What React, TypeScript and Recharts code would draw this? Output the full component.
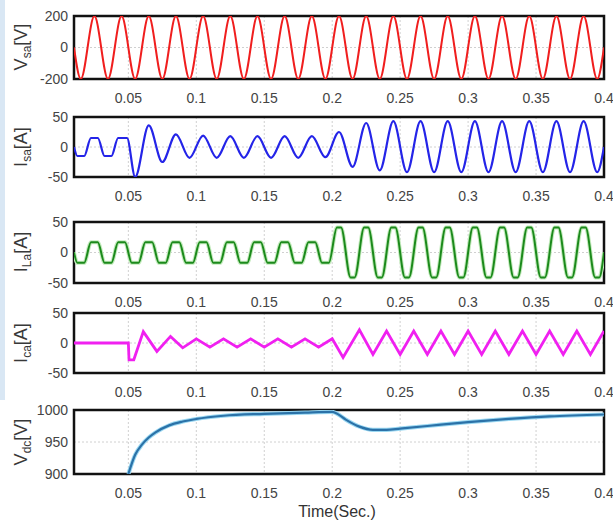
import React from 'react'
import { LineChart, Line, XAxis, YAxis, CartesianGrid, ReferenceArea } from 'recharts'

type Pt = [number, number]

const timeRange: [number, number] = [0.01, 0.4]
const timeTicks = [0.05, 0.1, 0.15, 0.2, 0.25, 0.3, 0.35, 0.4]
const vsaTicks = [-200, 0, 200]
const ampTicks = [-50, 0, 50]
const vdcTicks = [900, 950, 1000]

// source voltage, peaks/troughs
const vsa: Pt[] = [
  [0.01, 0], [0.015, -200], [0.025, 200], [0.035, -200], [0.045, 200], [0.055, -200],
  [0.065, 200], [0.075, -200], [0.085, 200], [0.095, -200], [0.105, 200], [0.115, -200],
  [0.125, 200], [0.135, -200], [0.145, 200], [0.155, -200], [0.165, 200], [0.175, -200],
  [0.185, 200], [0.195, -200], [0.205, 200], [0.215, -200], [0.225, 200], [0.235, -200],
  [0.245, 200], [0.255, -200], [0.265, 200], [0.275, -200], [0.285, 200], [0.295, -200],
  [0.305, 200], [0.315, -200], [0.325, 200], [0.335, -200], [0.345, 200], [0.355, -200],
  [0.365, 200], [0.375, -200], [0.385, 200], [0.395, -200], [0.4, 0],
]

// source current
const isa: Pt[] = [
  [0.01, 0], [0.0125, -15], [0.0175, -15], [0.0225, 15], [0.0275, 15], [0.0325, -15], [0.0375, -15],
  [0.0425, 15], [0.049, 15], [0.055, -50], [0.065, 36], [0.075, -25], [0.085, 21], [0.095, -18],
  [0.105, 19], [0.115, -18], [0.125, 18], [0.135, -18], [0.145, 18], [0.155, -18], [0.165, 18],
  [0.175, -18], [0.185, 18], [0.195, -17], [0.205, 25], [0.215, -33], [0.225, 40], [0.235, -39],
  [0.245, 43], [0.255, -42], [0.265, 43], [0.275, -42], [0.285, 43], [0.295, -42], [0.305, 43],
  [0.315, -42], [0.325, 43], [0.335, -42], [0.345, 43], [0.355, -42], [0.365, 43], [0.375, -42],
  [0.385, 43], [0.395, -42], [0.4, 0],
]

// load current (flat-topped)
const ila: Pt[] = [
  [0.01, 0],
  [0.0125, -17], [0.0175, -17], [0.0225, 17], [0.0275, 17],
  [0.0325, -17], [0.0375, -17], [0.0425, 17], [0.0475, 17],
  [0.0525, -17], [0.0575, -17], [0.0625, 17], [0.0675, 17],
  [0.0725, -17], [0.0775, -17], [0.0825, 17], [0.0875, 17],
  [0.0925, -17], [0.0975, -17], [0.1025, 17], [0.1075, 17],
  [0.1125, -17], [0.1175, -17], [0.1225, 17], [0.1275, 17],
  [0.1325, -17], [0.1375, -17], [0.1425, 17], [0.1475, 17],
  [0.1525, -17], [0.1575, -17], [0.1625, 17], [0.1675, 17],
  [0.1725, -17], [0.1775, -17], [0.1825, 17], [0.1875, 17],
  [0.1925, -17], [0.1975, -17], [0.2035, 41], [0.2065, 41],
  [0.2135, -41], [0.2165, -41], [0.2235, 41], [0.2265, 41],
  [0.2335, -41], [0.2365, -41], [0.2435, 41], [0.2465, 41],
  [0.2535, -41], [0.2565, -41], [0.2635, 41], [0.2665, 41],
  [0.2735, -41], [0.2765, -41], [0.2835, 41], [0.2865, 41],
  [0.2935, -41], [0.2965, -41], [0.3035, 41], [0.3065, 41],
  [0.3135, -41], [0.3165, -41], [0.3235, 41], [0.3265, 41],
  [0.3335, -41], [0.3365, -41], [0.3435, 41], [0.3465, 41],
  [0.3535, -41], [0.3565, -41], [0.3635, 41], [0.3665, 41],
  [0.3735, -41], [0.3765, -41], [0.3835, 41], [0.3865, 41],
  [0.3935, -41], [0.3965, -41], [0.4, 0],
]

// compensator current
const ica: Pt[] = [
  [0.01, 0], [0.05, 0], [0.0505, -28], [0.054, -28], [0.061, 19], [0.071, -14], [0.081, 11],
  [0.09, -8], [0.1, 7], [0.11, -7], [0.12, 7], [0.13, -7], [0.14, 7], [0.15, -7], [0.16, 7],
  [0.17, -7], [0.18, 7], [0.19, -7], [0.2, 7], [0.208, -24], [0.22, 22], [0.23, -19],
  [0.24, 20], [0.25, -19], [0.26, 20], [0.27, -19], [0.28, 20], [0.29, -19], [0.3, 20],
  [0.31, -19], [0.32, 20], [0.33, -19], [0.34, 20], [0.35, -19], [0.36, 20], [0.37, -19],
  [0.38, 20], [0.39, -19], [0.4, 20],
]

// dc-link voltage
const vdc: Pt[] = [
  [0.05, 900], [0.055, 930], [0.06, 946], [0.065, 957], [0.07, 965], [0.08, 976], [0.09, 982],
  [0.1, 986], [0.12, 991], [0.15, 994], [0.18, 996], [0.2, 997], [0.203, 995], [0.21, 985],
  [0.22, 974], [0.23, 969], [0.24, 969], [0.25, 971], [0.27, 975], [0.3, 981], [0.33, 986],
  [0.36, 990], [0.4, 993],
]

const FONT = '"Liberation Sans", Arial, sans-serif'
const tickStyle = { fontSize: 14, fill: '#444', fontFamily: FONT }
const PAD = 10

interface PanelProps {
  data: Pt[]
  top: number
  h: number
  yTicks: number[]
  color: string
  width: number
  curve: 'monotone' | 'linear'
  halo?: string
}

function Panel({ data, top, h, yTicks, color, width, curve, halo }: PanelProps) {
  const rows = data.map(([t, v]) => ({ t, v }))
  return (
    <div style={{ position: 'absolute', left: 0, top: top - PAD }}>
      <LineChart width={613} height={h + PAD + 30} data={rows} margin={{ top: PAD, right: 9, bottom: 0, left: 0 }}>
        <CartesianGrid stroke="#d0d0d0" strokeDasharray="2 2" />
        <XAxis
          dataKey="t"
          type="number"
          domain={timeRange}
          ticks={timeTicks}
          interval={0}
          allowDataOverflow
          tickLine={false}
          axisLine={false}
          tickSize={12}
          tickMargin={2}
          height={30}
          tick={tickStyle}
        />
        <YAxis
          type="number"
          domain={[yTicks[0], yTicks[yTicks.length - 1]]}
          ticks={yTicks}
          interval={0}
          allowDataOverflow
          width={74}
          tickLine={false}
          axisLine={false}
          tickSize={4}
          tickMargin={2}
          tick={tickStyle}
        />
        {halo && (
          <Line dataKey="v" type={curve} stroke={halo} strokeWidth={width + 2} dot={false} isAnimationActive={false} />
        )}
        <Line dataKey="v" type={curve} stroke={color} strokeWidth={width} dot={false} isAnimationActive={false} />
        <ReferenceArea
          x1={timeRange[0]}
          x2={timeRange[1]}
          y1={yTicks[0]}
          y2={yTicks[yTicks.length - 1]}
          fill="none"
          stroke="#111"
          strokeWidth={2.5}
          ifOverflow="visible"
        />
      </LineChart>
    </div>
  )
}

function AxisTitle({ y, main, sub, unit }: { y: number; main: string; sub: string; unit: string }) {
  return (
    <div
      style={{
        position: 'absolute',
        left: 22,
        top: y,
        transform: 'translate(-50%, -50%) rotate(-90deg)',
        whiteSpace: 'nowrap',
        fontFamily: FONT,
        fontSize: 18,
        lineHeight: 1,
        color: '#383838',
      }}
    >
      {main}
      <span style={{ fontSize: 12, verticalAlign: -4 }}>{sub}</span>[{unit}]
    </div>
  )
}

export default function App() {
  return (
    <div style={{ position: 'absolute', left: 0, top: 0, width: 613, height: 524, background: '#fff', overflow: 'hidden' }}>
      <div style={{ position: 'absolute', left: 0, top: 0, width: 5, height: 400, background: '#d9e7f4' }} />
      <Panel data={vsa} top={16} h={63} yTicks={vsaTicks} color="#f01e1e" width={2} curve="monotone" />
      <Panel data={isa} top={117} h={60} yTicks={ampTicks} color="#2424e8" width={2.2} curve="monotone" />
      <Panel data={ila} top={222} h={61} yTicks={ampTicks} color="#1c8a1c" width={2} curve="monotone" halo="#c4ebbd" />
      <Panel data={ica} top={313} h={60} yTicks={ampTicks} color="#f020f0" width={2.8} curve="linear" />
      <Panel data={vdc} top={410} h={64} yTicks={vdcTicks} color="#2b72a8" width={2.2} curve="monotone" halo="#9bd8f2" />
      <AxisTitle y={47} main="V" sub="sa" unit="V" />
      <AxisTitle y={147} main="I" sub="sa" unit="A" />
      <AxisTitle y={252} main="I" sub="La" unit="A" />
      <AxisTitle y={343} main="I" sub="ca" unit="A" />
      <AxisTitle y={442} main="V" sub="dc" unit="V" />
      <div
        style={{
          position: 'absolute',
          left: 337,
          top: 512,
          transform: 'translate(-50%, -50%)',
          fontFamily: FONT,
          fontSize: 16,
          color: '#333',
          whiteSpace: 'nowrap',
        }}
      >
        Time(Sec.)
      </div>
    </div>
  )
}
